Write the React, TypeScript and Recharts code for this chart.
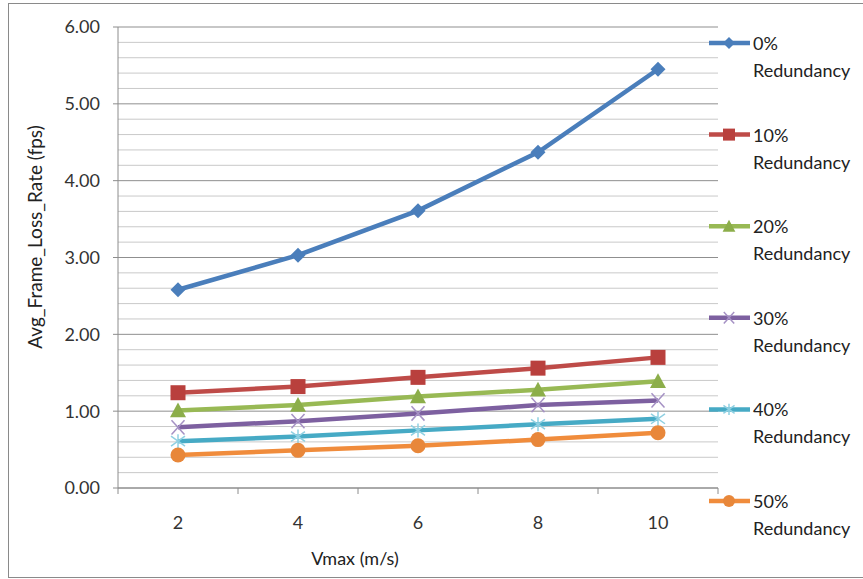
import React from "react";
import { LineChart, Line, XAxis, YAxis, CartesianGrid } from "recharts";

const vmax = [2, 4, 6, 8, 10];
const red0 = [2.58, 3.03, 3.61, 4.37, 5.45];
const red10 = [1.24, 1.32, 1.44, 1.56, 1.7];
const red20 = [1.01, 1.08, 1.19, 1.28, 1.39];
const red30 = [0.79, 0.87, 0.97, 1.08, 1.14];
const red40 = [0.61, 0.67, 0.75, 0.83, 0.9];
const red50 = [0.43, 0.49, 0.55, 0.63, 0.72];

const seriesNames = ["0%", "10%", "20%", "30%", "40%", "50%"];
const yTicks = [0, 1, 2, 3, 4, 5, 6];
const yMinorTicks = [
  0.2, 0.4, 0.6, 0.8, 1.2, 1.4, 1.6, 1.8, 2.2, 2.4, 2.6, 2.8, 3.2, 3.4, 3.6, 3.8,
  4.2, 4.4, 4.6, 4.8, 5.2, 5.4, 5.6, 5.8,
];
const xTicks = [1, 2, 3, 4, 5, 6, 7, 8, 9, 10, 11];
const xLabelTicks = [2, 4, 6, 8, 10];

const data = vmax.map((v, i) => ({
  vmax: v,
  s0: red0[i],
  s10: red10[i],
  s20: red20[i],
  s30: red30[i],
  s40: red40[i],
  s50: red50[i],
}));

const FONT = "Lato, 'Open Sans', sans-serif";

type MarkerKind = "diamond" | "square" | "triangle" | "x" | "star" | "circle";

const series: { key: string; name: string; color: string; marker: MarkerKind; markerColor: string }[] = [
  { key: "s0", name: seriesNames[0], color: "#4A7EBB", marker: "diamond", markerColor: "#4A7EBB" },
  { key: "s10", name: seriesNames[1], color: "#BE4B48", marker: "square", markerColor: "#B9403D" },
  { key: "s20", name: seriesNames[2], color: "#98B954", marker: "triangle", markerColor: "#8CAE4A" },
  { key: "s30", name: seriesNames[3], color: "#7D60A0", marker: "x", markerColor: "#A591C4" },
  { key: "s40", name: seriesNames[4], color: "#46AAC5", marker: "star", markerColor: "#8FD0E2" },
  { key: "s50", name: seriesNames[5], color: "#F08C3C", marker: "circle", markerColor: "#E8873A" },
];

function Marker({ kind, cx, cy, color, s = 1 }: { kind: MarkerKind; cx: number; cy: number; color: string; s?: number }) {
  switch (kind) {
    case "diamond": {
      const r = 7.5 * s;
      return <polygon points={`${cx},${cy - r} ${cx + r},${cy} ${cx},${cy + r} ${cx - r},${cy}`} fill={color} />;
    }
    case "square": {
      const r = 7.5 * s;
      return <rect x={cx - r} y={cy - r} width={2 * r} height={2 * r} fill={color} />;
    }
    case "triangle": {
      const r = 8 * s;
      return <polygon points={`${cx},${cy - r} ${cx + r},${cy + r * 0.85} ${cx - r},${cy + r * 0.85}`} fill={color} />;
    }
    case "x": {
      const r = 6.5 * s;
      return (
        <g stroke={color} strokeWidth={1.5}>
          <line x1={cx - r} y1={cy - r * 1.1} x2={cx + r} y2={cy + r * 1.1} />
          <line x1={cx - r} y1={cy + r * 1.1} x2={cx + r} y2={cy - r * 1.1} />
        </g>
      );
    }
    case "star": {
      const r = 7 * s;
      return (
        <g stroke={color} strokeWidth={1.5}>
          <line x1={cx} y1={cy - r} x2={cx} y2={cy + r} />
          <line x1={cx - r} y1={cy - r * 0.7} x2={cx + r} y2={cy + r * 0.7} />
          <line x1={cx - r} y1={cy + r * 0.7} x2={cx + r} y2={cy - r * 0.7} />
        </g>
      );
    }
    case "circle":
    default:
      return <circle cx={cx} cy={cy} r={7.5 * s} fill={color} />;
  }
}

function makeDot(kind: MarkerKind, color: string) {
  return (props: any) => {
    const { cx, cy, index } = props;
    if (cx == null || cy == null) return <g key={`d-${index}`} />;
    return (
      <g key={`d-${kind}-${index}`}>
        <Marker kind={kind} cx={cx} cy={cy} color={color} />
      </g>
    );
  };
}

function XTick(props: any) {
  const { x, y, payload } = props;
  const v = payload.value;
  if (xLabelTicks.includes(v)) {
    return (
      <text x={x} y={y + 33} textAnchor="middle" fill="#333" fontSize={18} fontFamily={FONT}>
        {v}
      </text>
    );
  }
  return <line x1={x} y1={y - 8} x2={x} y2={y - 2} stroke="#8c8c8c" strokeWidth={1} />;
}

function LegendBlock() {
  return (
    <svg width={163} height={560} style={{ position: "absolute", left: 700, top: 20, display: "block" }}>
      {series.map((s, i) => {
        const cy = 23 + i * 91.6;
        return (
          <g key={s.key}>
            <line x1={9} y1={cy} x2={50} y2={cy} stroke={s.color} strokeWidth={4.5} />
            <Marker kind={s.marker} cx={29} cy={cy} color={s.markerColor} s={0.8} />
            <text x={53} y={cy + 7} fontSize={18} fontFamily={FONT} fill="#222">
              {s.name}
            </text>
            <text x={53} y={cy + 34} fontSize={18} fontFamily={FONT} fill="#222">
              Redundancy
            </text>
          </g>
        );
      })}
    </svg>
  );
}

export default function App() {
  return (
    <div style={{ position: "absolute", left: 0, top: 0, width: 863, height: 579, overflow: "hidden", background: "#fff" }}>
      <div
        style={{
          position: "absolute",
          left: 8,
          top: 3,
          width: 880,
          height: 573,
          border: "1px solid #8a8a8a",
        }}
      />
      <div style={{ position: "absolute", left: 0, top: 0 }}>
        <LineChart width={863} height={579} data={data} margin={{ top: 27, right: 145, bottom: 0, left: 0 }}>
          <CartesianGrid vertical={false} horizontalValues={yMinorTicks} stroke="#c9c9c9" strokeWidth={1} />
          <CartesianGrid vertical={false} horizontalValues={yTicks} stroke="#8f8f8f" strokeWidth={1} />
          <XAxis
            dataKey="vmax"
            type="number"
            domain={[1, 11]}
            ticks={xTicks}
            interval={0}
            allowDataOverflow
            height={91}
            axisLine={{ stroke: "#8c8c8c" }}
            tickLine={false}
            tickSize={6}
            tickMargin={2}
            tick={XTick}
            label={() => (
              <text x={355} y={565} textAnchor="middle" fontSize={18} fontFamily={FONT} fill="#222">
                Vmax (m/s)
              </text>
            )}
          />
          <YAxis
            domain={[0, 6]}
            ticks={yTicks}
            interval={0}
            width={118}
            axisLine={{ stroke: "#8c8c8c" }}
            tickLine={{ stroke: "#8c8c8c" }}
            tickSize={5}
            tickMargin={13}
            tickFormatter={(v: number) => v.toFixed(2)}
            tick={{ fontSize: 18, fontFamily: FONT, fill: "#333" }}
            label={() => (
              <text
                x={42}
                y={237}
                transform="rotate(-90 42 237)"
                textAnchor="middle"
                fontSize={19}
                fontFamily={FONT}
                fill="#222"
              >
                Avg_Frame_Loss_Rate (fps)
              </text>
            )}
          />
          {series.map((s) => (
            <Line
              key={s.key}
              dataKey={s.key}
              name={s.name}
              stroke={s.color}
              strokeWidth={4.5}
              dot={makeDot(s.marker, s.markerColor)}
              activeDot={false}
              isAnimationActive={false}
            />
          ))}
        </LineChart>
      </div>
      <LegendBlock />
    </div>
  );
}
